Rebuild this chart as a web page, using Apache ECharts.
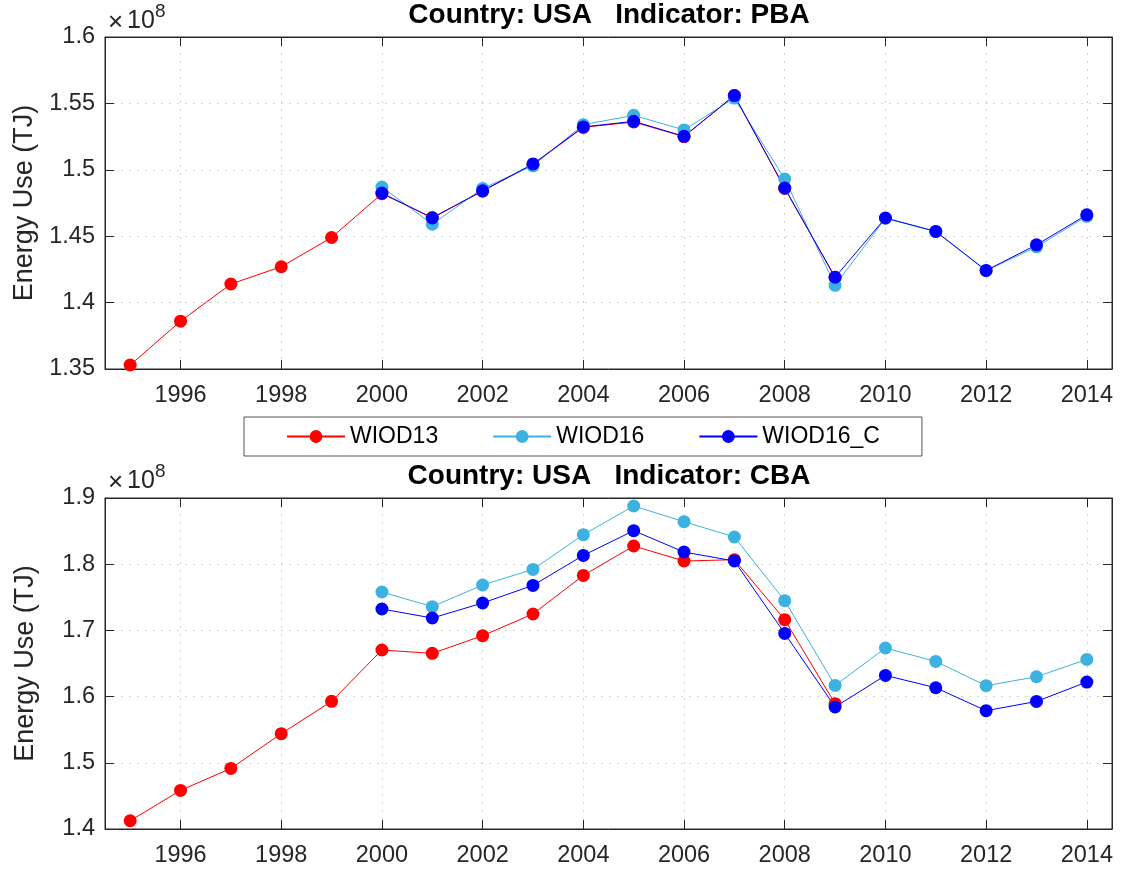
<!DOCTYPE html>
<html>
<head>
<meta charset="utf-8">
<title>Country: USA - PBA / CBA</title>
<script src="https://cdn.jsdelivr.net/npm/echarts@6/dist/echarts.min.js"></script>
<style>
  html, body { margin: 0; padding: 0; background: #fff; }
  #chart { width: 1122px; height: 873px; }
</style>
</head>
<body>
<div id="chart"></div>
<script>
// values in 10^8 TJ (axis shows x10^8)
const years = [1995, 1996, 1997, 1998, 1999, 2000, 2001, 2002, 2003, 2004,
               2005, 2006, 2007, 2008, 2009, 2010, 2011, 2012, 2013, 2014]
const yearTicks = [1996, 1998, 2000, 2002, 2004, 2006, 2008, 2010, 2012, 2014]

// top: PBA
const pbaWiod13  = [1.353, 1.386, 1.414, 1.427, 1.449, 1.482, 1.464, 1.484, 1.504, 1.532,
                    1.536, 1.525, 1.556, 1.486, 1.419, null, null, null, null, null]
const pbaWiod16  = [null, null, null, null, null, 1.487, 1.459, 1.486, 1.503, 1.534,
                    1.541, 1.530, 1.554, 1.493, 1.413, 1.4635, 1.4535, 1.424, 1.442, 1.465]
const pbaWiod16C = [null, null, null, null, null, 1.4825, 1.4637, 1.4842, 1.5044, 1.5323,
                    1.5365, 1.5252, 1.5559, 1.4863, 1.4191, 1.4637, 1.4536, 1.4242, 1.4435, 1.4661]

// bottom: CBA
const cbaWiod13  = [1.4125, 1.4583, 1.4915, 1.544, 1.5928, 1.6704, 1.6653, 1.692, 1.7248, 1.7831,
                    1.8275, 1.8048, 1.8068, 1.7162, 1.5893, null, null, null, null, null]
const cbaWiod16  = [null, null, null, null, null, 1.758, 1.7358, 1.7686, 1.7921, 1.8446,
                    1.8879, 1.8642, 1.8411, 1.7449, 1.6169, 1.6734, 1.6532, 1.6165, 1.630, 1.6562]
const cbaWiod16C = [null, null, null, null, null, 1.7323, 1.7187, 1.7414, 1.768, 1.8133,
                    1.8506, 1.8184, 1.8048, 1.6955, 1.5843, 1.632, 1.6134, 1.5787, 1.5927, 1.622]

const seriesNames = ['WIOD13', 'WIOD16', 'WIOD16_C']
const colors = ['#ff0000', '#3cb2e0', '#0000ff']

const FONT = '"Liberation Sans", Arial, Helvetica, sans-serif'
const AXIS_COLOR = '#262626'

const pairs = (vals) => years.map((y, i) => [y, vals[i]]).filter(p => p[1] != null)

const xAxes = (gridIndex) => [
    {
        type: 'value', gridIndex, min: 1994.5, max: 2014.5, position: 'bottom',
        axisLine: { show: true, lineStyle: { color: AXIS_COLOR } },
        axisTick: { inside: true, length: 9, customValues: yearTicks, lineStyle: { color: AXIS_COLOR } },
        axisLabel: { customValues: yearTicks, formatter: v => String(v), fontSize: 23.5, color: AXIS_COLOR, fontFamily: FONT, margin: 15 },
        splitLine: { show: true, lineStyle: { color: '#d4d4d4', type: [2, 6] } },
    },
    {
        type: 'value', gridIndex, min: 1994.5, max: 2014.5, position: 'top',
        axisLine: { show: true, lineStyle: { color: AXIS_COLOR } },
        axisTick: { inside: true, length: 9, customValues: yearTicks, lineStyle: { color: AXIS_COLOR } },
        axisLabel: { show: false },
        splitLine: { show: false },
    },
]

const yAxes = (gridIndex, min, max, interval, name) => [
    {
        type: 'value', gridIndex, min, max, interval, position: 'left',
        name, nameLocation: 'middle', nameGap: 66,
        nameTextStyle: { fontSize: 27, color: AXIS_COLOR, fontFamily: FONT },
        axisLine: { show: true, lineStyle: { color: AXIS_COLOR } },
        axisTick: { inside: true, length: 9, lineStyle: { color: AXIS_COLOR } },
        axisLabel: { fontSize: 23.5, color: AXIS_COLOR, fontFamily: FONT, margin: 10 },
        splitLine: { show: true, lineStyle: { color: '#d4d4d4', type: [2, 6] } },
    },
    {
        type: 'value', gridIndex, min, max, interval, position: 'right',
        axisLine: { show: true, lineStyle: { color: AXIS_COLOR } },
        axisTick: { inside: true, length: 9, lineStyle: { color: AXIS_COLOR } },
        axisLabel: { show: false },
        splitLine: { show: false },
    },
]

const makeSeries = (gridIndex, lists) => lists.map((vals, i) => ({
    name: seriesNames[i],
    type: 'line',
    xAxisIndex: gridIndex * 2,
    yAxisIndex: gridIndex * 2,
    data: pairs(vals),
    symbol: 'circle',
    symbolSize: 13,
    itemStyle: { color: colors[i] },
    lineStyle: { color: colors[i], width: 1 },
    emphasis: { disabled: true },
    animation: false,
}))

// the "x10^8" multiplier above each y axis
const exponent = (y) => [
    { type: 'text', left: 108, top: y + 1, style: { text: '×', fontSize: 26, fill: AXIS_COLOR, fontFamily: FONT } },
    { type: 'text', left: 127, top: y, style: { text: '10', fontSize: 25, fill: AXIS_COLOR, fontFamily: FONT } },
    { type: 'text', left: 155, top: y - 7, style: { text: '8', fontSize: 19, fill: AXIS_COLOR, fontFamily: FONT } },
]

const chart = echarts.init(document.getElementById('chart'), null, { renderer: 'canvas' })
chart.setOption({
    backgroundColor: '#fff',
    animation: false,
    title: [
        { text: 'Country: USA   Indicator: PBA', left: 609, top: 1, textAlign: 'center', padding: 0,
          textStyle: { fontSize: 28, fontWeight: 'bold', color: '#000', fontFamily: FONT } },
        { text: 'Country: USA   Indicator: CBA', left: 609, top: 462, textAlign: 'center', padding: 0,
          textStyle: { fontSize: 28, fontWeight: 'bold', color: '#000', fontFamily: FONT } },
    ],
    legend: {
        data: seriesNames,
        left: 244, top: 417,
        orient: 'horizontal',
        padding: [8, 42],
        itemWidth: 58, itemHeight: 16, itemGap: 54,
        borderColor: '#555', borderWidth: 1, backgroundColor: '#fff',
        textStyle: { fontSize: 23, color: '#000', fontFamily: FONT },
    },
    grid: [
        { left: 105, top: 37, right: 10, height: 332, show: true, borderColor: AXIS_COLOR, borderWidth: 1, backgroundColor: 'transparent' },
        { left: 105, top: 498, right: 10, height: 331, show: true, borderColor: AXIS_COLOR, borderWidth: 1, backgroundColor: 'transparent' },
    ],
    xAxis: [...xAxes(0), ...xAxes(1)],
    yAxis: [...yAxes(0, 1.35, 1.6, 0.05, 'Energy Use (TJ)'), ...yAxes(1, 1.4, 1.9, 0.1, 'Energy Use (TJ)')],
    graphic: [...exponent(9), ...exponent(469)],
    series: [
        ...makeSeries(0, [pbaWiod13, pbaWiod16, pbaWiod16C]),
        ...makeSeries(1, [cbaWiod13, cbaWiod16, cbaWiod16C]),
    ],
})
</script>
</body>
</html>
